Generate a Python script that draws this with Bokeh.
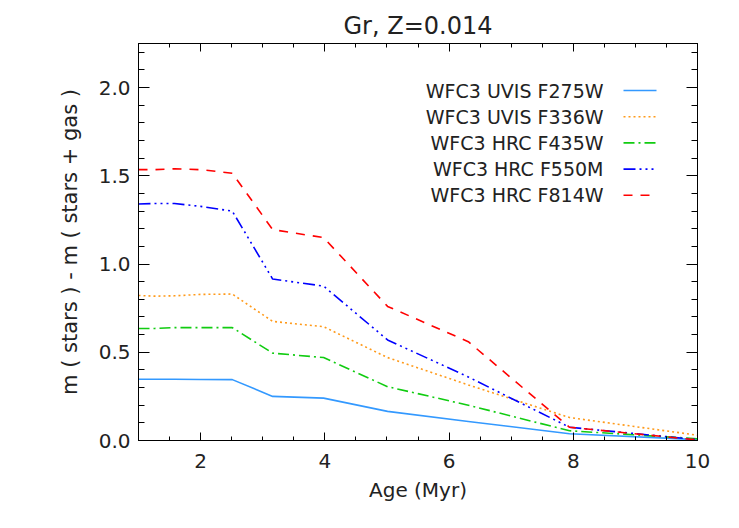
from bokeh.plotting import figure
from bokeh.models import Range1d, LinearAxis, SingleIntervalTicker, PrintfTickFormatter
from bokeh.core.properties import value
from bokeh.embed import file_html
from bokeh.resources import INLINE

# ---- data ----
age = [1.0, 1.26, 1.58, 2.0, 2.51, 3.16, 3.98, 5.01, 6.31, 7.94, 10.0]
f275w = [0.347, 0.347, 0.347, 0.346, 0.345, 0.250, 0.240, 0.165, 0.108, 0.038, 0.005]
f336w = [0.822, 0.818, 0.820, 0.828, 0.830, 0.675, 0.645, 0.470, 0.315, 0.130, 0.030]
f435w = [0.635, 0.635, 0.640, 0.640, 0.640, 0.495, 0.470, 0.305, 0.200, 0.055, 0.010]
f550m = [1.340, 1.343, 1.343, 1.327, 1.300, 0.915, 0.875, 0.570, 0.360, 0.075, 0.005]
f814w = [1.535, 1.535, 1.540, 1.535, 1.515, 1.195, 1.150, 0.760, 0.560, 0.075, 0.003]

series = [f275w, f336w, f435w, f550m, f814w]
labels = ["WFC3 UVIS F275W", "WFC3 UVIS F336W", "WFC3 HRC F435W",
          "WFC3 HRC F550M", "WFC3 HRC F814W"]
colors = ["#3399ff", "#ff9a1a", "#11cc11", "#0000ff", "#ff0000"]
dashes = ["solid", "2 3", "11 4 2 4", "12 4 2 4 2 4 2 4", "9 8"]

title = "Gr, Z=0.014"
xlabel = "Age (Myr)"
ylabel = "m ( stars ) - m ( stars + gas )"

FONT = "DejaVu Sans"
X0, X1, Y0, Y1 = 1.0, 10.0, 0.0, 2.25
FW, FH = 559, 397

p = figure(frame_width=FW, frame_height=FH,
           x_range=Range1d(X0, X1), y_range=Range1d(Y0, Y1),
           output_backend="svg", toolbar_location=None,
           min_border_left=138, min_border_right=38,
           min_border_top=43, min_border_bottom=80,
           background_fill_color="white", border_fill_color="white")
p.xgrid.visible = False
p.ygrid.visible = False
p.outline_line_color = "black"

xt = SingleIntervalTicker(interval=2, num_minor_ticks=4)
yt = SingleIntervalTicker(interval=0.5, num_minor_ticks=5)


def style(ax, major, minor):
    ax.axis_line_color = "black"
    ax.major_tick_line_color = "black"
    ax.minor_tick_line_color = "black"
    ax.major_tick_in = major
    ax.major_tick_out = 0
    ax.minor_tick_in = minor
    ax.minor_tick_out = 0
    ax.major_label_text_font = FONT
    ax.major_label_text_font_size = "20px"
    ax.major_label_text_color = "#222222"
    ax.axis_label_text_font = FONT
    ax.axis_label_text_font_size = "20px"
    ax.axis_label_text_font_style = "normal"
    ax.axis_label_text_color = "#222222"


xa = p.xaxis[0]
xa.ticker = xt
style(xa, 8, 4)
xa.major_label_standoff = 13
xa.axis_label = xlabel
xa.axis_label_standoff = 7

ya = p.yaxis[0]
ya.ticker = yt
ya.formatter = PrintfTickFormatter(format="%.1f")
style(ya, 11, 6)
ya.major_label_standoff = 8
ya.axis_label = ylabel
ya.axis_label_text_font_size = "21px"
ya.axis_label_standoff = 14

# mirrored tick-only axes (no labels)
top = LinearAxis(ticker=xt)
style(top, 8, 4)
top.major_label_text_font_size = "1px"
top.major_label_text_color = None
top.major_label_standoff = 0
p.add_layout(top, "above")

right = LinearAxis(ticker=yt)
style(right, 11, 6)
right.major_label_text_font_size = "1px"
right.major_label_text_color = None
right.major_label_standoff = 0
p.add_layout(right, "right")

p.title.text = title
p.title.align = "center"
p.title.text_font = FONT
p.title.text_font_size = "24px"
p.title.text_font_style = "normal"
p.title.text_color = "#222222"
p.title.standoff = 7

for ys, c, d in zip(series, colors, dashes):
    p.line(age, ys, line_color=c, line_dash=d, line_width=1.6)

# ---- legend (layout in frame pixels, converted to data units) ----
def dx(px):
    return X0 + px / FW * (X1 - X0)


def dy(py):
    return Y1 - py / FH * (Y1 - Y0)


LEG_TEXT_RIGHT = 465   # px from frame left
LEG_LINE_L, LEG_LINE_R = 485, 518
LEG_TOP, LEG_STEP = 47, 26.2

for i, (lab, c, d) in enumerate(zip(labels, colors, dashes)):
    yy = dy(LEG_TOP + i * LEG_STEP)
    p.text(x=[dx(LEG_TEXT_RIGHT)], y=[yy], text=[lab],
           text_font=value(FONT), text_font_size="19px",
           text_align="right", text_baseline="middle", text_color="#222222")
    p.line([dx(LEG_LINE_L), dx(LEG_LINE_R)], [yy, yy],
           line_color=c, line_dash=d, line_width=1.6)

open("out.html", "w").write(file_html(p, INLINE))
